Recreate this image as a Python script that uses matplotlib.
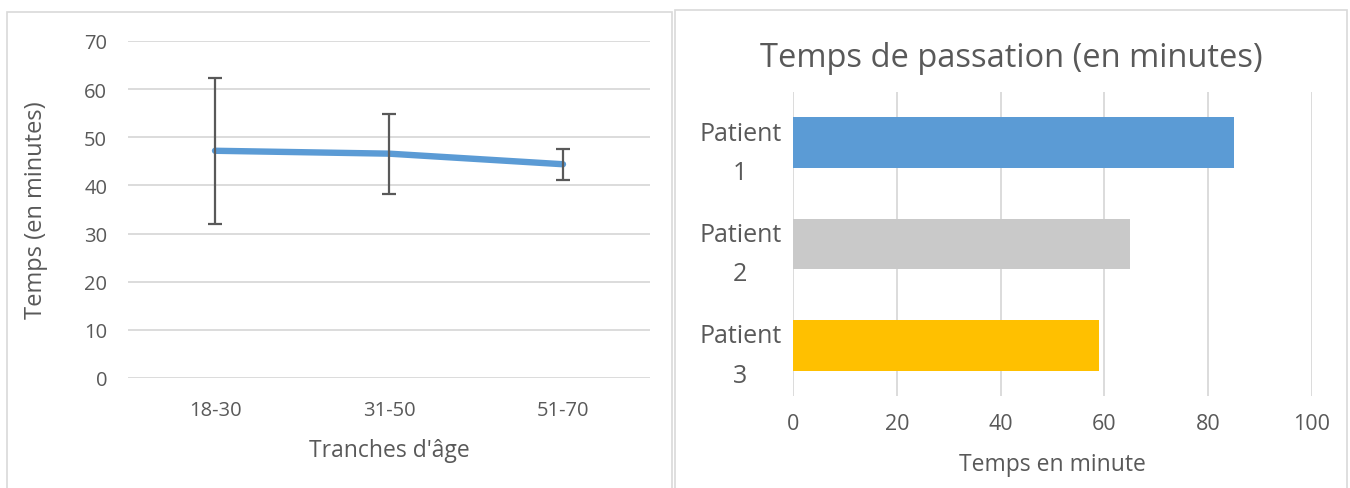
import numpy as np
import matplotlib
matplotlib.use("Agg")
import matplotlib.pyplot as plt
from matplotlib.patches import Rectangle

# ── data ────────────────────────────────────────────────────────────────────
age_groups = ["18-30", "31-50", "51-70"]
mean_time = [47.2, 46.6, 44.4]
err_time = [15.2, 8.3, 3.2]

patients = ["Patient\n1", "Patient\n2", "Patient\n3"]
patient_time = [85, 65, 59]
patient_colors = ["#5B9BD5", "#C9C9C9", "#FFC000"]

TXT = "#595959"
GRID = "#D9D9D9"

plt.rcParams["font.family"] = ["Open Sans", "DejaVu Sans"]

fig = plt.figure(figsize=(13.5, 4.89), dpi=100)
W, H = 1350, 489

def box(x0, y0, x1, y1):
    return [x0 / W, 1 - y1 / H, (x1 - x0) / W, (y1 - y0) / H]

# chart frames
for x0, y0, x1 in [(7, 13, 672), (675, 11, 1347)]:
    fig.patches.append(Rectangle((x0 / W, -0.01), (x1 - x0) / W, 1.01 - y0 / H,
                                 transform=fig.transFigure, fill=False,
                                 edgecolor="#D9D9D9", lw=1.2))

# ── left: line with error bars ──────────────────────────────────────────────
ax1 = fig.add_axes(box(128, 42, 650, 379))
x = np.arange(len(age_groups))
ax1.plot(x, mean_time, color="#5B9BD5", lw=4.6, solid_capstyle="round", zorder=3)
ax1.errorbar(x, mean_time, yerr=err_time, fmt="none", ecolor="#595959",
             elinewidth=1.6, capsize=5, capthick=1.6, zorder=4)
ax1.set_xlim(-0.5, 2.5)
ax1.set_ylim(0, 70)
ax1.set_yticks(range(0, 71, 10))
ax1.set_xticks(x)
ax1.set_xticklabels(age_groups)
ax1.yaxis.grid(True, color=GRID, lw=1.3)
ax1.set_axisbelow(True)
for s in ax1.spines.values():
    s.set_visible(False)
ax1.tick_params(length=0, colors=TXT, labelsize=14.5)
ax1.tick_params(axis="y", pad=15)
ax1.tick_params(axis="x", pad=16)
ax1.set_xlabel("Tranches d'âge", color=TXT, fontsize=16.5, labelpad=13)
ax1.set_ylabel("Temps (en minutes)", color=TXT, fontsize=17, labelpad=26)

# ── right: horizontal bars ──────────────────────────────────────────────────
ax2 = fig.add_axes(box(793, 93, 1312, 397))
y = np.arange(len(patients))
ax2.barh(y, patient_time, height=0.5, color=patient_colors, zorder=3)
ax2.set_ylim(2.5, -0.5)
ax2.set_xlim(0, 100)
ax2.set_xticks(range(0, 101, 20))
ax2.set_yticks(y)
ax2.set_yticklabels(patients, ha="center", linespacing=1.75)
ax2.xaxis.grid(True, color=GRID, lw=1.3)
ax2.set_axisbelow(True)
for s in ax2.spines.values():
    s.set_visible(False)
ax2.tick_params(length=0, colors=TXT)
ax2.tick_params(axis="y", pad=38, labelsize=18)
ax2.tick_params(axis="x", pad=12, labelsize=15.5)
ax2.set_xlabel("Temps en minute", color=TXT, fontsize=16.5, labelpad=13)
ax2.set_title("Temps de passation (en minutes)", color=TXT, fontsize=23.5,
              x=0.42, pad=19)

fig.savefig("out.png", dpi=100, facecolor="white")
